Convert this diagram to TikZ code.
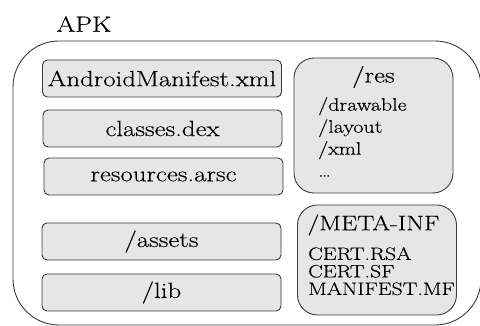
\documentclass[tikz,border=0pt]{standalone}
\usepackage{fontspec}
\setmainfont[FakeStretch=1.22,FakeBold=0.3]{Latin Modern Roman}
\usepackage{tikz}
\usetikzlibrary{positioning}
\definecolor{boxColor}{HTML}{E6E6E6}
\definecolor{frameColor}{HTML}{3A3A3A}

\begin{document}
\begin{tikzpicture}[x=1pt,y=1pt,
		filebox/.style={draw=frameColor, fill=boxColor, rounded corners=5pt, line width=0.9pt,
			minimum width=239pt, minimum height=37pt, inner sep=0pt,
			font=\fontsize{22}{26}\selectfont},
		dirbox/.style={draw=frameColor, fill=boxColor, rounded corners=20pt, line width=0.9pt,
			minimum width=159pt, inner sep=0pt},
		listtext/.style={align=left, inner sep=0pt, anchor=north west}]
	\useasboundingbox (0,0) rectangle (480,326);
	% outer container
	\draw[frameColor, line width=0.9pt, rounded corners=46pt] (13,1) rectangle (481,285);
	\node[font=\fontsize{22}{26}\selectfont] (apk) at (84,302) {APK};
	% files on the left
	\node[filebox] (manifest) at (162,247.5) {AndroidManifest.xml};
	\node[filebox] (dex) at (162.5,197.5) {classes.dex};
	\node[filebox] (arsc) at (163.5,149.5) {resources.arsc};
	\node[filebox] (assets) at (161.5,84.5) {/assets};
	\node[filebox] (lib) at (161.5,33.5) {/lib};
	% folders on the right
	\node[dirbox, minimum height=135pt] (res) at (373.5,200.5) {};
	\node[font=\fontsize{22}{26}\selectfont] (restitle) at (373.5,249) {/res};
	\node[listtext, font=\fontsize{18}{22}\selectfont] (reslist) at (318,229)
		{/drawable\\/layout\\/xml\\\dots};
	\node[dirbox, minimum height=110pt] (meta) at (377,66) {};
	\node[font=\fontsize{21}{24}\selectfont] (metatitle) at (373.5,101) {/META-INF};
	\node[listtext, font=\fontsize{18}{17.5}\selectfont] (metalist) at (308,79)
		{CERT.RSA\\CERT.SF\\MANIFEST.MF};
\end{tikzpicture}
\end{document}
